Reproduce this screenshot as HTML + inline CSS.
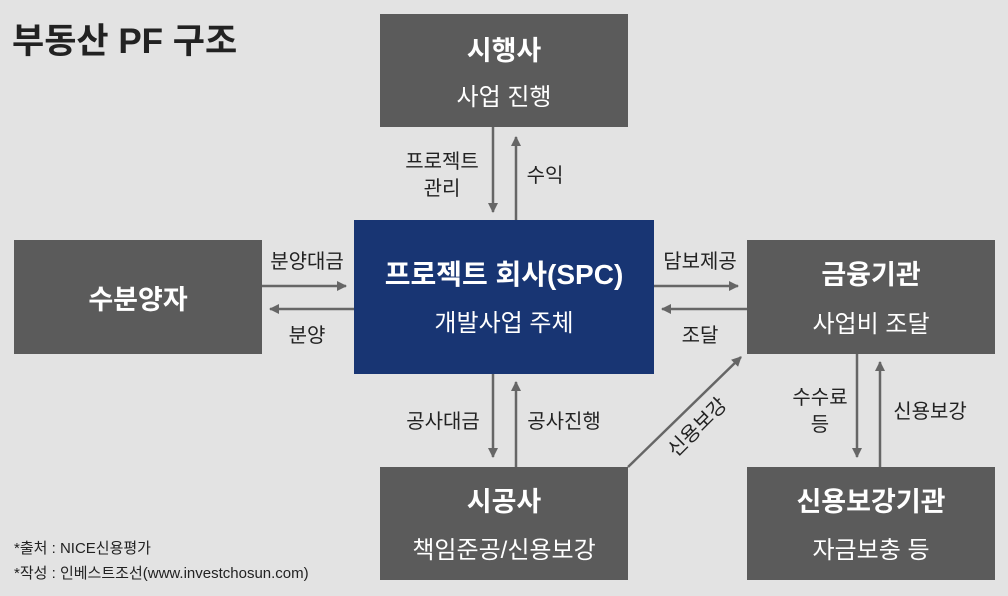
<!DOCTYPE html>
<html><head><meta charset="utf-8"><style>
body{margin:0;background:#e3e3e3;}
svg{display:block;font-family:"Liberation Sans","Noto Sans CJK KR",sans-serif;}
</style></head><body>
<svg width="1008" height="596" viewBox="0 0 1008 596" xmlns="http://www.w3.org/2000/svg">
<defs><marker id="a" markerWidth="10" markerHeight="10" refX="9" refY="5" orient="auto" markerUnits="userSpaceOnUse"><path d="M0,0 L10,5 L0,10 z" fill="#666"/></marker></defs>
<rect width="1008" height="596" fill="#e3e3e3"/>
<text x="12" y="53" font-size="35" font-weight="bold" fill="#222">부동산 PF 구조</text>
<g fill="#5b5b5b">
<rect x="380" y="14" width="248" height="113"/>
<rect x="14" y="240" width="248" height="114"/>
<rect x="747" y="240" width="248" height="114"/>
<rect x="380" y="467" width="248" height="113"/>
<rect x="747" y="467" width="248" height="113"/>
</g>
<rect x="354" y="220" width="300" height="154" fill="#183573"/>
<g fill="#fff" text-anchor="middle">
<text x="504" y="60" font-size="27" font-weight="bold">시행사</text>
<text x="504" y="105" font-size="24">사업 진행</text>
<text x="138" y="309" font-size="27" font-weight="bold">수분양자</text>
<text x="871" y="284" font-size="27" font-weight="bold">금융기관</text>
<text x="871" y="332" font-size="24">사업비 조달</text>
<text x="504" y="511" font-size="27" font-weight="bold">시공사</text>
<text x="504" y="558" font-size="24">책임준공/신용보강</text>
<text x="871" y="511" font-size="27" font-weight="bold">신용보강기관</text>
<text x="871" y="558" font-size="24">자금보충 등</text>
<text x="504" y="284" font-size="28" font-weight="bold">프로젝트 회사(SPC)</text>
<text x="504" y="331" font-size="24">개발사업 주체</text>
</g>
<g stroke="#666" stroke-width="2.5" marker-end="url(#a)">
<line x1="493" y1="127" x2="493" y2="212"/>
<line x1="516" y1="220" x2="516" y2="137"/>
<line x1="262" y1="286" x2="346" y2="286"/>
<line x1="354" y1="309" x2="270" y2="309"/>
<line x1="654" y1="286" x2="738" y2="286"/>
<line x1="747" y1="309" x2="662" y2="309"/>
<line x1="493" y1="374" x2="493" y2="457"/>
<line x1="516" y1="467" x2="516" y2="382"/>
<line x1="628" y1="467" x2="741" y2="357"/>
<line x1="857" y1="354" x2="857" y2="457"/>
<line x1="880" y1="467" x2="880" y2="362"/>
</g>
<g fill="#222" font-size="20" text-anchor="middle">
<text x="442" y="168">프로젝트</text>
<text x="442" y="195">관리</text>
<text x="545" y="182">수익</text>
<text x="307" y="268">분양대금</text>
<text x="307" y="342">분양</text>
<text x="700" y="268">담보제공</text>
<text x="700" y="342">조달</text>
<text x="443" y="428">공사대금</text>
<text x="564" y="428">공사진행</text>
<text x="702" y="432" transform="rotate(-45 702 432)">신용보강</text>
<text x="820" y="404">수수료</text>
<text x="820" y="431">등</text>
<text x="930" y="418">신용보강</text>
</g>
<g fill="#222" font-size="15">
<text x="14" y="553">*출처 : NICE신용평가</text>
<text x="14" y="578">*작성 : 인베스트조선(www.investchosun.com)</text>
</g>
</svg>
</body></html>
